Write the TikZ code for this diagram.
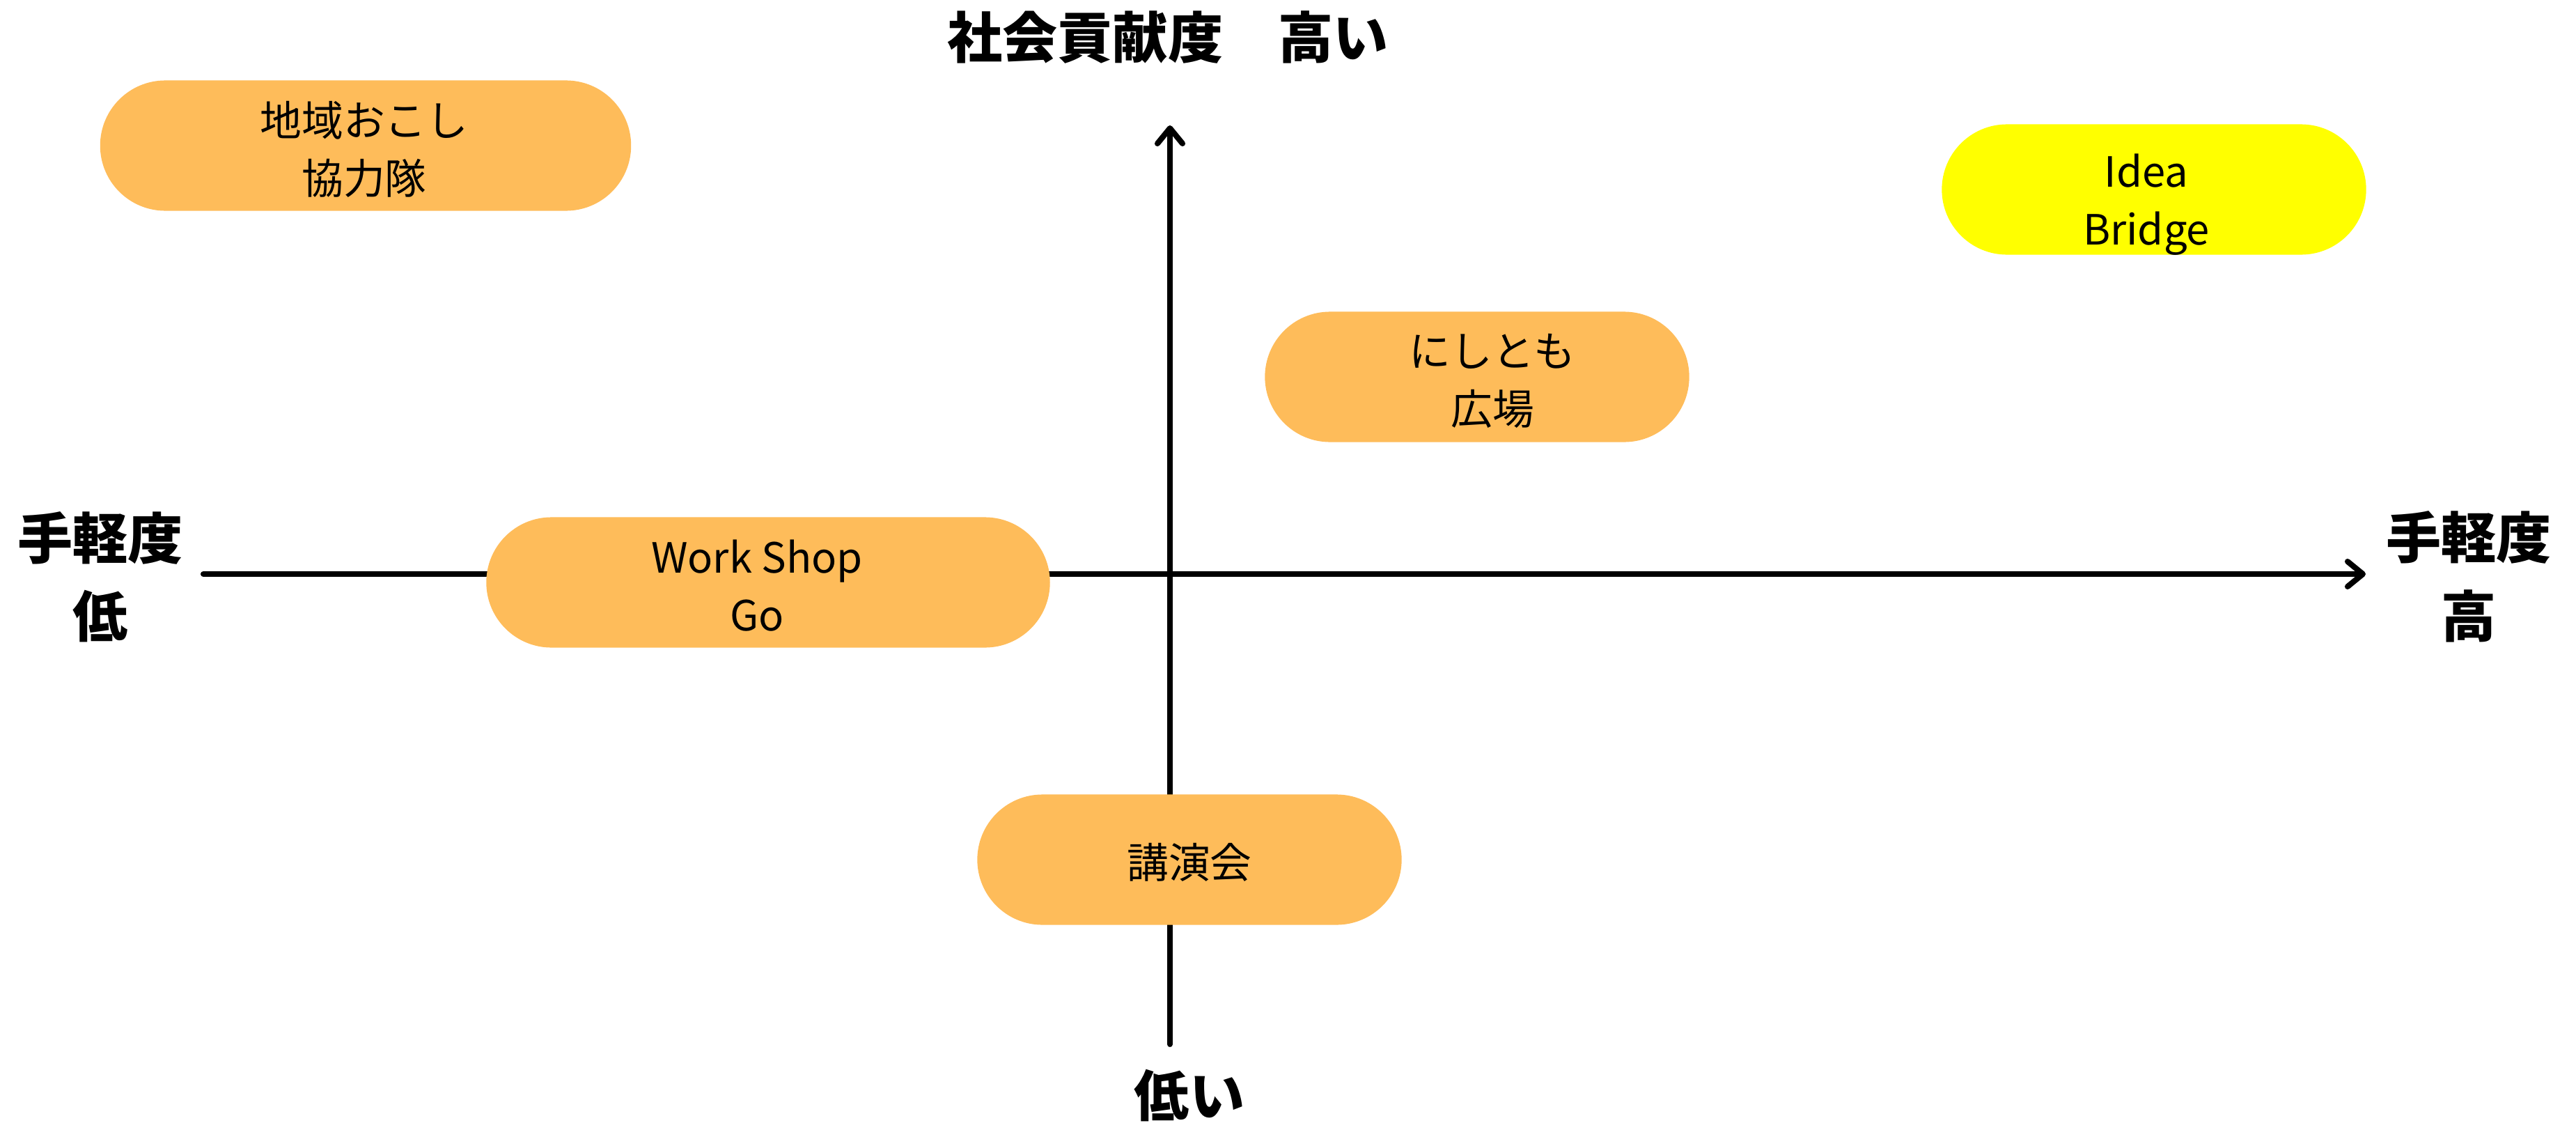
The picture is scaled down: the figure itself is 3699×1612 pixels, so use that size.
\documentclass[tikz,border=0pt]{standalone}
\usepackage{fontspec}
\setmainfont{Noto Sans CJK JP}
\usetikzlibrary{arrows.meta}
\definecolor{boxorange}{HTML}{FEBC5A}
\definecolor{boxyellow}{HTML}{FFFF00}
\tikzset{
  axis/.style={line width=2.3pt, line cap=round, -{Straight Barb[length=0.22cm,width=0.36cm,round]}},
  pill/.style={fill=boxorange, draw=none, minimum height=1.87cm, rounded corners=0.935cm, inner sep=0pt},
  pilltext/.style={align=center, inner sep=0pt, font=\fontsize{17pt}{23.6pt}\selectfont},
  axislabel/.style={align=center, font=\fontsize{22.5pt}{32pt}\selectfont\bfseries, inner sep=0pt}
}
\begin{document}
\begin{tikzpicture}[x=0.01cm,y=-0.01cm]
\useasboundingbox (0,0) rectangle (3699,1612);
% axes
\coordinate (xl) at (292,824);
\coordinate (xr) at (3397,824);
\coordinate (yb) at (1680,1499);
\coordinate (yt) at (1680,180);
\draw[axis] (xl) -- (xr);
\draw[axis] (yb) -- (yt);
% axis labels
\node[axislabel] (top) at (1677,54) {社会貢献度　高い};
\node[axislabel] (bottom) at (1708,1573) {低い};
\node[axislabel] (left) at (144,828) {手軽度\\低};
\node[axislabel] (right) at (3545,828) {手軽度\\高};
% boxes
\node[pill, minimum width=7.62cm] (chiiki) at (525,209) {};
\node[pill, minimum width=6.09cm, fill=boxyellow] (idea) at (3093,272) {};
\node[pill, minimum width=6.09cm] (nishi) at (2121,541) {};
\node[pill, minimum width=8.09cm] (work) at (1103,836) {};
\node[pill, minimum width=6.09cm] (kouen) at (1708,1234) {};
% box texts
\node[pilltext] (chiikit) at ([shift={(-2,5)}]chiiki.center) {地域おこし\\協力隊};
\node[pilltext] (ideat) at ([shift={(-11,22)}]idea.center) {Idea\\Bridge};
\node[pilltext] (nishit) at ([shift={(22,6)}]nishi.center) {にしとも\\広場};
\node[pilltext] (workt) at ([shift={(-16,5)}]work.center) {Work Shop\\Go};
\node[pilltext] (kouent) at ([shift={(0,4)}]kouen.center) {講演会};
\end{tikzpicture}
\end{document}
